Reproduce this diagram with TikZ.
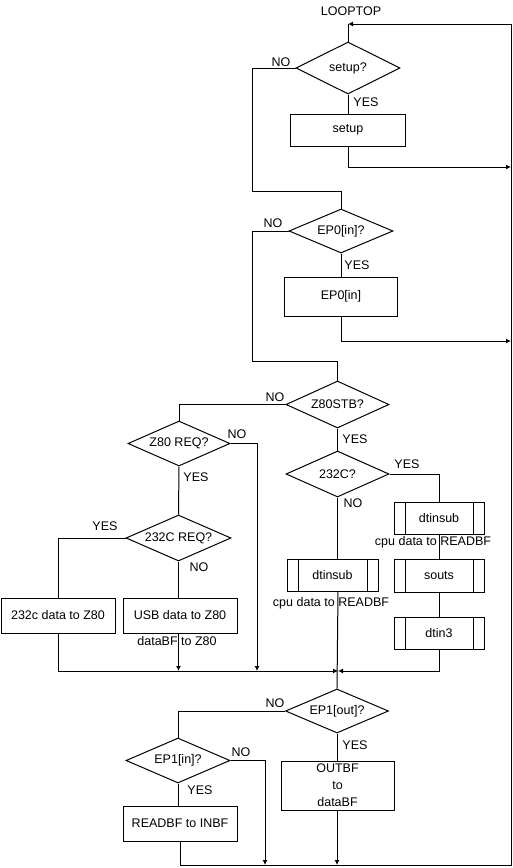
\documentclass[tikz,border=0pt]{standalone}
\usepackage{fontspec}
\setmainfont{Liberation Sans}
\usetikzlibrary{shapes.geometric,arrows.meta}
\begin{document}
\begin{tikzpicture}[x=1pt,y=-1pt,line width=1pt,
  every node/.style={font=\fontsize{12.5pt}{15pt}\selectfont, inner sep=0pt},
  dec/.style={draw, diamond, shape aspect=2.2, inner sep=0pt},
  box/.style={draw, rectangle, inner sep=0pt},
  proc/.style={draw, rectangle, inner sep=0pt, minimum width=90, minimum height=32,
    path picture={
      \draw ([xshift=11pt]path picture bounding box.north west) -- ([xshift=11pt]path picture bounding box.south west);
      \draw ([xshift=-11pt]path picture bounding box.north east) -- ([xshift=-11pt]path picture bounding box.south east);}},
  lbl/.style={inner sep=0pt},
  arr/.style={-{Latex[length=5pt,width=5pt]}}]
\useasboundingbox (0,0) rectangle (512,868);

% nodes
\node[lbl] (looptop) at (351,11) {LOOPTOP};
\node[dec, minimum width=104, minimum height=52] (dsetup) at (348,68) {setup?};
\node[box, minimum width=115, minimum height=32] (setup) at (348,130) {setup};
\node[dec, minimum width=104, minimum height=44] (dep0) at (341,231) {EP0[in]?};
\node[box, minimum width=113, minimum height=39] (ep0) at (341,296.5) {EP0[in]};
\node[dec, minimum width=103, minimum height=47] (dz80stb) at (337.5,404.5) {Z80STB?};
\node[dec, minimum width=102, minimum height=45] (dz80req) at (179,443.5) {Z80 REQ?};
\node[dec, minimum width=103, minimum height=46] (d232) at (337.5,474) {232C?};
\node[dec, minimum width=105, minimum height=46] (d232req) at (178.5,538) {232C REQ?};
\node[box, minimum width=114, minimum height=35] (box232) at (58,615.5) {232c data to Z80};
\node[box, minimum width=114, minimum height=35] (usb) at (180,615.5) {USB data to Z80};
\node[proc] (dtr) at (439,518) {dtinsub};
\node[proc, minimum height=33] (souts) at (439,575.5) {souts};
\node[proc] (dtin3) at (439,633) {dtin3};
\node[proc, minimum width=91] (dtl) at (332.5,575) {dtinsub};
\node[dec, minimum width=103, minimum height=44] (dep1out) at (337,711) {EP1[out]?};
\node[dec, minimum width=104, minimum height=45] (dep1in) at (178,760.5) {EP1[in]?};
\node[box, minimum width=114, minimum height=35] (readbf) at (180,823.5) {READBF to INBF};
\node[box, minimum width=113, minimum height=49, align=center,
  font=\fontsize{12.5pt}{17pt}\selectfont] (outbf) at (337.5,785.5) {OUTBF\\to\\dataBF};

% labels
\node[lbl] (no1) at (281,62) {NO};
\node[lbl] (yes1) at (366,102) {YES};
\node[lbl] (no2) at (273,223) {NO};
\node[lbl] (yes2) at (357,265) {YES};
\node[lbl] (no3) at (275,397) {NO};
\node[lbl] (yes3) at (355,439) {YES};
\node[lbl] (no4) at (237,434) {NO};
\node[lbl] (yes4) at (196,477) {YES};
\node[lbl] (no5) at (353,503) {NO};
\node[lbl] (yes5) at (407,464) {YES};
\node[lbl] (yes6) at (105,526) {YES};
\node[lbl] (no6) at (199,567) {NO};
\node[lbl] (no7) at (275,703) {NO};
\node[lbl] (yes7) at (355,745) {YES};
\node[lbl] (no8) at (241,752) {NO};
\node[lbl] (yes8) at (200,790) {YES};
\node[lbl] (cpu1) at (433,542) {cpu data to READBF};
\node[lbl] (cpu2) at (331,603) {cpu data to READBF};
\node[lbl] (databf) at (177,641) {dataBF to Z80};

% coordinates
\coordinate (top) at (348,24);
\coordinate (br) at (511,865);
\coordinate (c1) at (252,191);
\coordinate (c2) at (252,361);
\coordinate (r1) at (511,167);
\coordinate (r2) at (511,341);
\coordinate (j) at (338,671);
\coordinate (b1) at (257,671);
\coordinate (b2) at (265,865);

% connectors
\draw[arr] (readbf.south) |- (br) |- (top);
\draw (top) -- (dsetup.north);
\draw (dsetup.south) -- (setup.north);
\draw[arr] (setup.south) |- (r1);
\draw (dsetup.west) -| (c1) -| (dep0.north);
\draw (dep0.south) -- (ep0.north);
\draw[arr] (ep0.south) |- (r2);
\draw (dep0.west) -| (c2) -| (dz80stb.north);
\draw (dz80stb.west) -| (dz80req.north);
\draw (dz80stb.south) -- (d232.north);
\draw[arr] (dz80req.east) -| (b1);
\draw (dz80req.south) -- (d232req.north);
\draw (d232req.west) -| (box232.north);
\draw (d232req.south) -- (d232req.south |- usb.north);
\draw[arr] (d232req.south |- usb.south) -- (d232req.south |- j);
\draw[arr] (box232.south) |- (j);
\draw (d232.east) -| (dtr.north);
\draw (d232.south) -- (d232.south |- dtl.north);
\draw (j |- dtl.south) -- (dep1out.north);
\draw (dtr.south) -- (souts.north);
\draw (souts.south) -- (dtin3.north);
\draw[arr] (dtin3.south) |- (j);
\draw (dep1out.west) -| (dep1in.north);
\draw (dep1out.south) -- (dep1out.south |- outbf.north);
\draw[arr] (dep1out.south |- outbf.south) -- (dep1out.south |- br);
\draw[arr] (dep1in.east) -| (b2);
\draw (dep1in.south) -- (dep1in.south |- readbf.north);
\end{tikzpicture}
\end{document}
